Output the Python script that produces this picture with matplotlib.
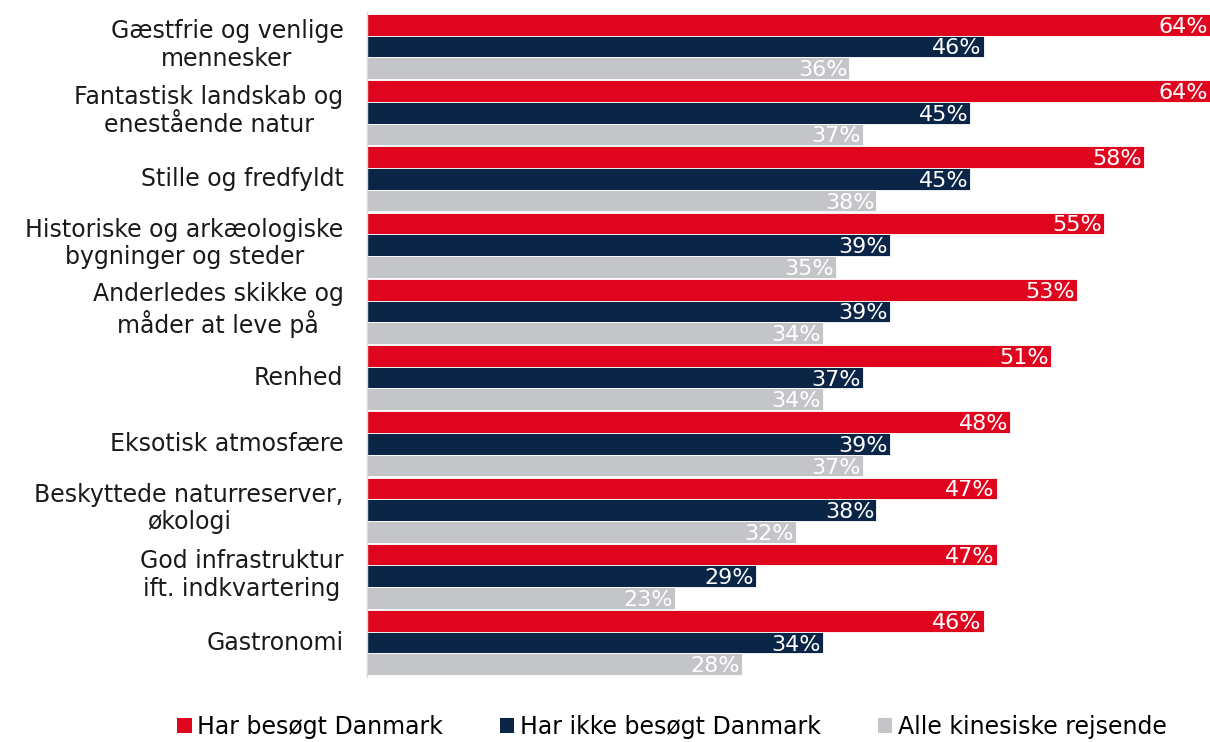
import matplotlib
matplotlib.use("Agg")
import matplotlib.pyplot as plt
import matplotlib.transforms as mtransforms
from matplotlib.patches import Patch
import numpy as np

categories = [
    "Gæstfrie og venlige\nmennesker",
    "Fantastisk landskab og\nenestående natur",
    "Stille og fredfyldt",
    "Historiske og arkæologiske\nbygninger og steder",
    "Anderledes skikke og\nmåder at leve på",
    "Renhed",
    "Eksotisk atmosfære",
    "Beskyttede naturreserver,\nøkologi",
    "God infrastruktur\nift. indkvartering",
    "Gastronomi",
]
series_names = ["Har besøgt Danmark", "Har ikke besøgt Danmark", "Alle kinesiske rejsende"]
visited = [64, 64, 58, 55, 53, 51, 48, 47, 47, 46]
not_visited = [46, 45, 45, 39, 39, 37, 39, 38, 29, 34]
all_travellers = [36, 37, 38, 35, 34, 34, 37, 32, 23, 28]

colors = ["#E0051F", "#0B2546", "#C4C5C9"]
FONT = "DejaVu Sans"
FS = 17
FS_VAL = 16

plt.rcParams["font.family"] = [FONT]

fig = plt.figure(figsize=(12.10, 7.42), dpi=100)
ax = fig.add_axes([367 / 1210, 1 - 677 / 742, 1 - 367 / 1210, (677 - 12) / 742])

XMAX = 62.9
y = np.arange(len(categories))
h = 0.328
offsets = [-h, 0, h]
for vals, off, col in zip([visited, not_visited, all_travellers], offsets, colors):
    ax.barh(y + off, vals, height=h, color=col, edgecolor="white", linewidth=0.6)
    for yi, v in zip(y, vals):
        xpos = min(v, XMAX) - 0.15
        ax.text(xpos, yi + off + 0.03, f"{v}%", ha="right", va="center",
                color="white", fontsize=FS_VAL, clip_on=False)

ax.set_xlim(0, XMAX)
ax.set_ylim(len(categories) - 0.48, -0.52)
ax.set_yticks(y)
ax.set_yticklabels(categories, fontsize=FS, color="#1a1a1a", multialignment="center",
                   linespacing=1.2)
ax.tick_params(axis="y", length=0, pad=17)
for lab in ax.get_yticklabels():
    dy = 6 if "\n" in lab.get_text() else 2
    lab.set_transform(lab.get_transform() +
                      mtransforms.ScaledTranslation(0, dy / 100, fig.dpi_scale_trans))
ax.set_xticks([])
for s in ["top", "right", "bottom"]:
    ax.spines[s].set_visible(False)
ax.spines["left"].set_color("#D9D9D9")
ax.spines["left"].set_linewidth(1.0)

handles = [Patch(facecolor=c, edgecolor="none") for c in colors]
fig.legend(handles, series_names, loc="center", bbox_to_anchor=(672 / 1210, 1 - 727 / 742),
           ncol=3, frameon=False, fontsize=FS, handlelength=0.6, handleheight=0.6,
           handletextpad=0.25, columnspacing=2.4)

fig.savefig("out.png", dpi=100)
